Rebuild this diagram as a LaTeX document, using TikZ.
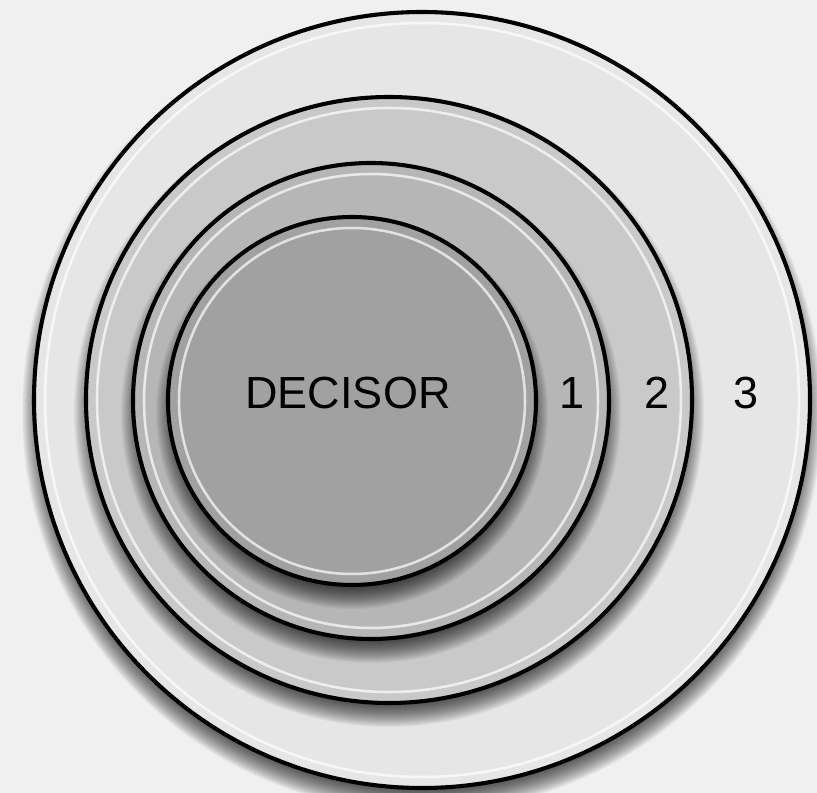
\documentclass[tikz,border=0pt]{standalone}
\usepackage{fontspec}
\setmainfont{Liberation Sans}
\usetikzlibrary{positioning}
\definecolor{bgcol}{RGB}{240,240,240}
\definecolor{ringthree}{RGB}{230,230,230}
\definecolor{ringtwo}{RGB}{201,201,201}
\definecolor{ringone}{RGB}{182,182,182}
\definecolor{corecol}{RGB}{161,161,161}
% one disc: soft shadow below, fill, light inner rim, black outline
\newcommand{\discring}[4]{%
  \foreach \k in {0,1,...,24}{\fill[black, opacity=0.04] (#1,#2+12) circle[radius=#3+12-\k];}
  \fill[#4] (#1,#2) circle[radius=#3];
  \draw[rimline] (#1,#2) circle[radius=#3-11];
  \draw[edgeline] (#1,#2) circle[radius=#3];}

\begin{document}
\begin{tikzpicture}[x=0.025cm, y=-0.025cm]
		\tikzstyle{edgeline} = [draw=black, line width=2.9pt];
		\tikzstyle{rimline} = [draw=white, opacity=0.7, line width=1.8pt];
		\tikzstyle{lbl} = [font=\fontsize{32}{36}\selectfont, text=black, inner sep=0pt];
		\fill[bgcol] (0,0) rectangle (817,793);
		\useasboundingbox (0,0) rectangle (817,793);
		\discring{422}{400}{388}{ringthree}
		\discring{389}{400}{303}{ringtwo}
		\discring{371}{401}{238}{ringone}
		\discring{352}{401}{184}{corecol}
		\node (decisor) [lbl] at (348,393) {DECISOR};
		\node (lvlone) [lbl] at (572,393) {1};
		\node (lvltwo) [lbl] at (657,393) {2};
		\node (lvlthree) [lbl] at (746,393) {3};
	\end{tikzpicture}
\end{document}
